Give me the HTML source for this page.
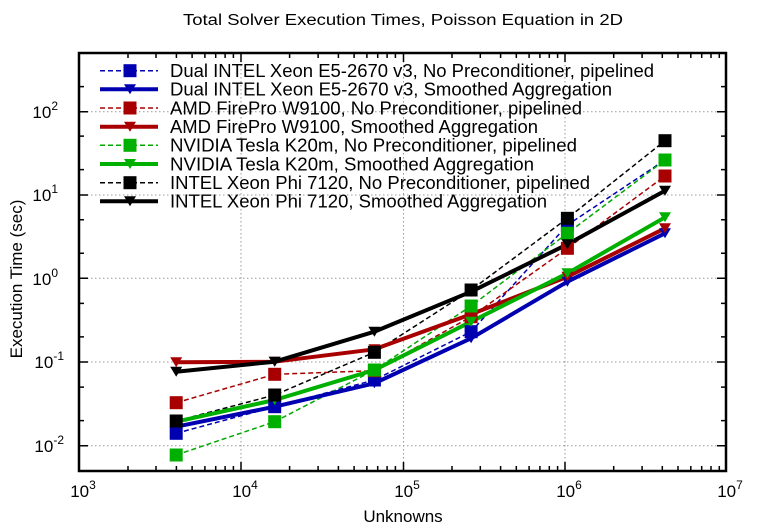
<!DOCTYPE html>
<html><head><meta charset="utf-8"><style>html,body{margin:0;padding:0;background:#fff}svg{display:block}</style></head>
<body>
<svg width="760" height="530" viewBox="0 0 760 530" xmlns="http://www.w3.org/2000/svg" font-family="Liberation Sans, Arial, sans-serif">
<defs>
<rect id="sq" x="-6.5" y="-6.5" width="13" height="13"/>
<path id="tr" d="M-6,-5 L6,-5 L0,5 Z"/>
</defs>
<text x="403" y="25" font-size="15.5" text-anchor="middle" textLength="440" lengthAdjust="spacingAndGlyphs">Total Solver Execution Times, Poisson Equation in 2D</text>
<g stroke="#999" stroke-width="1" stroke-dasharray="1.5,2.5">
<line x1="241" y1="53" x2="241" y2="471"/><line x1="403.5" y1="53" x2="403.5" y2="471"/><line x1="565" y1="53" x2="565" y2="471"/>
<line x1="79" y1="445.7" x2="726" y2="445.7"/><line x1="79" y1="362" x2="726" y2="362"/><line x1="79" y1="278.3" x2="726" y2="278.3"/><line x1="79" y1="195" x2="726" y2="195"/><line x1="79" y1="111.7" x2="726" y2="111.7"/>
</g>
<g stroke="#000" stroke-width="1.5">
<path d="M241,471v-9M403.5,471v-9M565,471v-9M241,53v9M403.5,53v9M565,53v9
M79,445.7h9M79,362h9M79,278.3h9M79,195h9M79,111.7h9
M726,445.7h-9M726,362h-9M726,278.3h-9M726,195h-9M726,111.7h-9
M79,420.6h5M79,387.1h5M79,336.9h5M79,303.4h5M79,253.2h5M79,219.7h5M79,169.6h5M79,136.1h5M79,86.6h5
M726,420.6h-5M726,387.1h-5M726,336.9h-5M726,303.4h-5M726,253.2h-5M726,219.7h-5M726,169.6h-5M726,136.1h-5M726,86.6h-5"/>
<path d="M128,471v-5M156,471v-5M176.4,471v-5M192.1,471v-5M204.9,471v-5M215.7,471v-5M225.1,471v-5M233.4,471v-5
M289.6,471v-5M318.1,471v-5M338.4,471v-5M354.1,471v-5M366.9,471v-5M377.7,471v-5M387.1,471v-5M395.4,471v-5
M452,471v-5M480.3,471v-5M500.6,471v-5M516.3,471v-5M529.1,471v-5M539.9,471v-5M549.3,471v-5M557.6,471v-5
M613.7,471v-5M642.1,471v-5M662.3,471v-5M678,471v-5M690.8,471v-5M701.7,471v-5M711,471v-5M719.3,471v-5
M128,53v5M156,53v5M176.4,53v5M192.1,53v5M204.9,53v5M215.7,53v5M225.1,53v5M233.4,53v5
M289.6,53v5M318.1,53v5M338.4,53v5M354.1,53v5M366.9,53v5M377.7,53v5M387.1,53v5M395.4,53v5
M452,53v5M480.3,53v5M500.6,53v5M516.3,53v5M529.1,53v5M539.9,53v5M549.3,53v5M557.6,53v5
M613.7,53v5M642.1,53v5M662.3,53v5M678,53v5M690.8,53v5M701.7,53v5M711,53v5M719.3,53v5"/>
</g>
<rect x="79" y="53" width="647" height="418" fill="none" stroke="#000" stroke-width="2.5"/>
<g font-size="17" fill="#000">
<g text-anchor="end">
<text x="64" y="452">10<tspan dy="-8" font-size="12">-2</tspan></text>
<text x="64" y="368">10<tspan dy="-8" font-size="12">-1</tspan></text>
<text x="58" y="285">10<tspan dy="-8" font-size="12">0</tspan></text>
<text x="58" y="201">10<tspan dy="-8" font-size="12">1</tspan></text>
<text x="58" y="118">10<tspan dy="-8" font-size="12">2</tspan></text>
</g>
<g text-anchor="middle">
<text x="83" y="497">10<tspan dy="-8" font-size="12">3</tspan></text>
<text x="245" y="497">10<tspan dy="-8" font-size="12">4</tspan></text>
<text x="407" y="497">10<tspan dy="-8" font-size="12">5</tspan></text>
<text x="569" y="497">10<tspan dy="-8" font-size="12">6</tspan></text>
<text x="730" y="497">10<tspan dy="-8" font-size="12">7</tspan></text>
</g>
<text x="403" y="522" text-anchor="middle">Unknowns</text>
<text transform="translate(22,279) rotate(-90)" text-anchor="middle">Execution Time (sec)</text>
</g>
<g fill="none" stroke-linejoin="round">
<polyline stroke="#0000b0" stroke-width="1.5" stroke-dasharray="5,3" points="176.2,433.3 274.7,406.7 374.4,380 471.1,331.7 567.4,225 665,160"/>
<polyline stroke="#a80000" stroke-width="1.5" stroke-dasharray="5,3" points="176.2,402.7 274.7,374.3 374.4,370.7 471.1,316.7 567.4,248.3 665,176"/>
<polyline stroke="#00a800" stroke-width="1.5" stroke-dasharray="5,3" points="176.2,455 274.7,421.7 374.4,370 471.1,306 567.4,233.3 665,160"/>
<polyline stroke="#000" stroke-width="1.5" stroke-dasharray="5,3" points="176.2,421 274.7,395 374.4,352.3 471.1,290 567.4,218.3 665,140.7"/>
<polyline stroke="#0000b0" stroke-width="4" points="176.2,426.7 274.7,406.7 374.4,383.3 471.1,338.3 567.4,281.7 665,233.3"/>
<polyline stroke="#a80000" stroke-width="4" points="176.2,362.3 274.7,361.7 374.4,349.3 471.1,314.3 567.4,276.7 665,228.3"/>
<polyline stroke="#00b000" stroke-width="4" points="176.2,421.7 274.7,400 374.4,370 471.1,321.7 567.4,273.3 665,217.3"/>
<polyline stroke="#000" stroke-width="4" points="176.2,371.7 274.7,361.7 374.4,331.7 471.1,291.7 567.4,244.3 665,190.7"/>
</g>
<g fill="#0000b0"><use href="#sq" x="176.2" y="433.3"/><use href="#sq" x="274.7" y="406.7"/><use href="#sq" x="374.4" y="380"/><use href="#sq" x="471.1" y="331.7"/><use href="#sq" x="567.4" y="225"/><use href="#sq" x="665" y="160"/>
<use href="#tr" x="176.2" y="426.7"/><use href="#tr" x="274.7" y="406.7"/><use href="#tr" x="374.4" y="383.3"/><use href="#tr" x="471.1" y="338.3"/><use href="#tr" x="567.4" y="281.7"/><use href="#tr" x="665" y="233.3"/></g>
<g fill="#a80000"><use href="#sq" x="176.2" y="402.7"/><use href="#sq" x="274.7" y="374.3"/><use href="#sq" x="374.4" y="370.7"/><use href="#sq" x="471.1" y="316.7"/><use href="#sq" x="567.4" y="248.3"/><use href="#sq" x="665" y="176"/>
<use href="#tr" x="176.2" y="362.3"/><use href="#tr" x="274.7" y="361.7"/><use href="#tr" x="374.4" y="349.3"/><use href="#tr" x="471.1" y="314.3"/><use href="#tr" x="567.4" y="276.7"/><use href="#tr" x="665" y="228.3"/></g>
<g fill="#00b000"><use href="#sq" x="176.2" y="455"/><use href="#sq" x="274.7" y="421.7"/><use href="#sq" x="374.4" y="370"/><use href="#sq" x="471.1" y="306"/><use href="#sq" x="567.4" y="233.3"/><use href="#sq" x="665" y="160"/>
<use href="#tr" x="176.2" y="421.7"/><use href="#tr" x="274.7" y="400"/><use href="#tr" x="374.4" y="370"/><use href="#tr" x="471.1" y="321.7"/><use href="#tr" x="567.4" y="273.3"/><use href="#tr" x="665" y="217.3"/></g>
<g fill="#000"><use href="#sq" x="176.2" y="421"/><use href="#sq" x="274.7" y="395"/><use href="#sq" x="374.4" y="352.3"/><use href="#sq" x="471.1" y="290"/><use href="#sq" x="567.4" y="218.3"/><use href="#sq" x="665" y="140.7"/>
<use href="#tr" x="176.2" y="371.7"/><use href="#tr" x="274.7" y="361.7"/><use href="#tr" x="374.4" y="331.7"/><use href="#tr" x="471.1" y="291.7"/><use href="#tr" x="567.4" y="244.3"/><use href="#tr" x="665" y="190.7"/></g>
<g>
<line x1="100" y1="70.7" x2="158" y2="70.7" stroke="#0000b0" stroke-width="1.5" stroke-dasharray="5,3"/><use href="#sq" x="130" y="70.7" fill="#0000b0"/>
<line x1="100" y1="89.3" x2="158" y2="89.3" stroke="#0000b0" stroke-width="4"/><use href="#tr" x="130" y="89.3" fill="#0000b0"/>
<line x1="100" y1="108" x2="158" y2="108" stroke="#a80000" stroke-width="1.5" stroke-dasharray="5,3"/><use href="#sq" x="130" y="108" fill="#a80000"/>
<line x1="100" y1="126.7" x2="158" y2="126.7" stroke="#a80000" stroke-width="4"/><use href="#tr" x="130" y="126.7" fill="#a80000"/>
<line x1="100" y1="145.3" x2="158" y2="145.3" stroke="#00a800" stroke-width="1.5" stroke-dasharray="5,3"/><use href="#sq" x="130" y="145.3" fill="#00b000"/>
<line x1="100" y1="164" x2="158" y2="164" stroke="#00b000" stroke-width="4"/><use href="#tr" x="130" y="164" fill="#00b000"/>
<line x1="100" y1="182.7" x2="158" y2="182.7" stroke="#000" stroke-width="1.5" stroke-dasharray="5,3"/><use href="#sq" x="130" y="182.7" fill="#000"/>
<line x1="100" y1="201.3" x2="158" y2="201.3" stroke="#000" stroke-width="4"/><use href="#tr" x="130" y="201.3" fill="#000"/>
</g>
<g font-size="18" fill="#000" lengthAdjust="spacingAndGlyphs">
<text x="170" y="77" textLength="484" lengthAdjust="spacingAndGlyphs">Dual INTEL Xeon E5-2670 v3, No Preconditioner, pipelined</text>
<text x="170" y="95.6" textLength="442" lengthAdjust="spacingAndGlyphs">Dual INTEL Xeon E5-2670 v3, Smoothed Aggregation</text>
<text x="170" y="114.3" textLength="412" lengthAdjust="spacingAndGlyphs">AMD FirePro W9100, No Preconditioner, pipelined</text>
<text x="170" y="133" textLength="368" lengthAdjust="spacingAndGlyphs">AMD FirePro W9100, Smoothed Aggregation</text>
<text x="170" y="151.6" textLength="407" lengthAdjust="spacingAndGlyphs">NVIDIA Tesla K20m, No Preconditioner, pipelined</text>
<text x="170" y="170.3" textLength="364" lengthAdjust="spacingAndGlyphs">NVIDIA Tesla K20m, Smoothed Aggregation</text>
<text x="170" y="189" textLength="420" lengthAdjust="spacingAndGlyphs">INTEL Xeon Phi 7120, No Preconditioner, pipelined</text>
<text x="170" y="207.6" textLength="377" lengthAdjust="spacingAndGlyphs">INTEL Xeon Phi 7120, Smoothed Aggregation</text>
</g>
</svg>
</body></html>
